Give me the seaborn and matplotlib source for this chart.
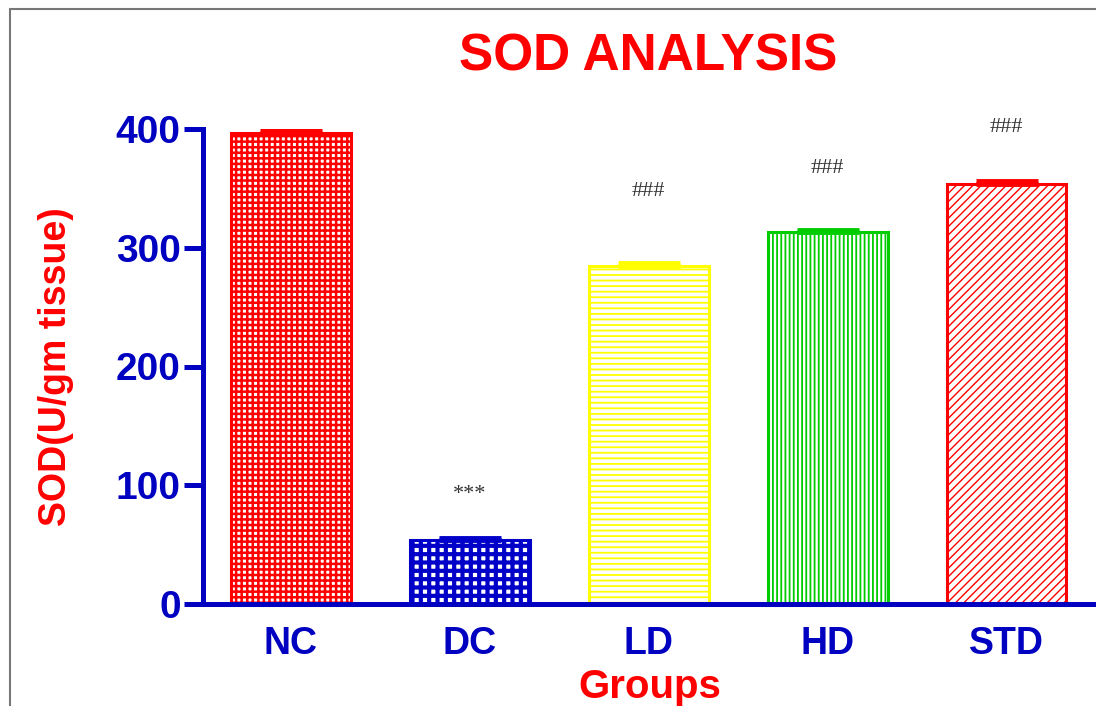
import numpy as np
import matplotlib
matplotlib.use("Agg")
import matplotlib.pyplot as plt
import seaborn as sns
from matplotlib.lines import Line2D

# data
groups = ['NC', 'DC', 'LD', 'HD', 'STD']
sod_mean = [397, 54, 285, 313, 354]
sod_sem = [2, 2, 2, 2, 2]
marks = ['', '***', '###', '###', '###']
mark_y = [None, 92, 347, 367, 401]

bar_colors = ['#FF0000', '#0000C8', '#FFFF00', '#00CC00', '#FF0000']
hatches = ['+++', '++', '---', '||||', '////']
hatch_lw = [1.8, 3.0, 1.3, 1.3, 1.0]

axis_blue = '#0000C0'
red = '#FF0000'

sns.set_style('white')
plt.rcParams['font.family'] = ['Liberation Sans', 'DejaVu Sans']
plt.rcParams['hatch.linewidth'] = 1.3

fig = plt.figure(figsize=(10.96, 7.06), dpi=100)
ax = fig.add_axes([203 / 1096, 1 - 604 / 706, 1 - 203 / 1096, (604 - 129) / 706])

sns.barplot(x=groups, y=sod_mean, hue=groups, palette=bar_colors, errorbar=None,
            width=0.67, legend=False, ax=ax)

for patch, col, h, lw in zip(ax.patches, bar_colors, hatches, hatch_lw):
    patch.set_facecolor('white')
    patch.set_edgecolor(col)
    patch.set_linewidth(2.2)
    patch.set_hatch(h)
    if hasattr(patch, 'set_hatch_linewidth'):
        patch.set_hatch_linewidth(lw)

# error bars (SEM), only the caps show at this scale
xpos = np.arange(len(groups))
for x, m, s, col in zip(xpos, sod_mean, sod_sem, bar_colors):
    ax.errorbar(x, m, yerr=[[0], [s]], fmt='none', ecolor=col, elinewidth=2,
                capsize=22, capthick=3.5, zorder=5)

# significance marks
for x, t, y in zip(xpos, marks, mark_y):
    if t:
        ax.text(x, y, t, ha='center', va='center', fontsize=16, color='#333333',
                family=['Liberation Serif', 'DejaVu Serif'], clip_on=False)

ax.set_xlim(-0.49, 4.5)
ax.set_ylim(0, 400)
ax.set_yticks([0, 100, 200, 300, 400])

for side in ['top', 'right']:
    ax.spines[side].set_visible(False)
for side in ['left', 'bottom']:
    ax.spines[side].set_color(axis_blue)
    ax.spines[side].set_linewidth(3.6)
ax.tick_params(axis='y', direction='out', length=14, width=3.6, color=axis_blue,
               labelcolor=axis_blue, labelsize=28, pad=2, left=True)
ax.tick_params(axis='x', length=0, labelcolor=axis_blue, labelsize=27, pad=16)
for lab in ax.get_yticklabels() + ax.get_xticklabels():
    lab.set_fontweight('bold')

ax.set_xlabel('Groups', color=red, fontsize=29, fontweight='bold', labelpad=4)
ax.set_ylabel('SOD(U/gm tissue)', color=red, fontsize=27, fontweight='bold', labelpad=30)
fig.text(648 / 1096, 1 - 57 / 706, 'SOD ANALYSIS', ha='center', va='center',
         color=red, fontsize=37, fontweight='bold')

# grey frame of the original image
fig.add_artist(Line2D([10 / 1096, 10 / 1096], [0, 1 - 9 / 706], color='#777777', lw=1.5))
fig.add_artist(Line2D([10 / 1096, 1], [1 - 9 / 706, 1 - 9 / 706], color='#777777', lw=1.5))

fig.savefig('out.png', dpi=100)
